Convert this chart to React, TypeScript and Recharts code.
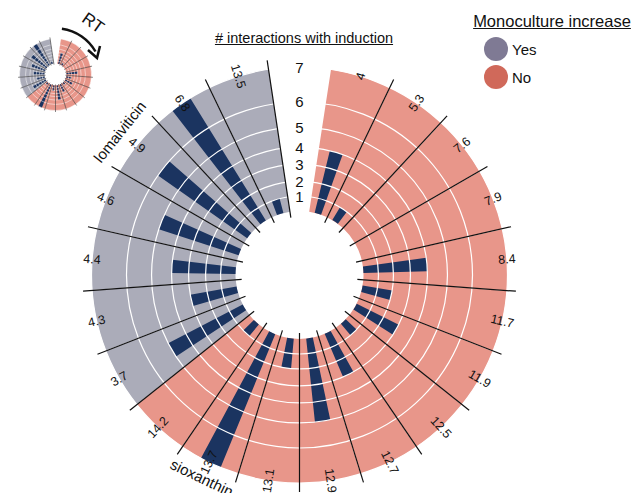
import React from "react";
import {
  RadialBarChart,
  RadialBar,
  PolarAngleAxis,
  PolarRadiusAxis,
  PolarGrid,
  Cell,
} from "recharts";

// one slot per retention-time group, slot 0 is the empty gap at the top
const rtLabels = ["", "4", "5.3", "7.6", "7.9", "8.4", "11.7", "11.9", "12.5", "12.7", "12.9", "13.1", "13.7", "14.2", "3.7", "4.3", "4.4", "4.6", "4.9", "6.8", "13.5"];
const interactions = [null, 4, 1, 0, 0, 4, 2, 3, 1, 3, 5, 2, 7, 1, 5, 3, 4, 5, 6, 7, 1];
const monocultureIncrease = ["", "No", "No", "No", "No", "No", "No", "No", "No", "No", "No", "No", "No", "No", "Yes", "Yes", "Yes", "Yes", "Yes", "Yes", "Yes"];
const compoundNames = ["", "", "", "", "", "", "", "", "", "", "", "", "sioxanthin", "", "", "", "", "", "lomaiviticin", "", ""];
const ringTicks = [1, 2, 3, 4, 5, 6, 7];
const ringMax = 7;
const legendItems = ["Yes", "No"];

const groundColors: Record<string, string> = { Yes: "#abacb9", No: "#e8968a" };
const legendColors: Record<string, string> = { Yes: "#7f7a94", No: "#d0695a" };
const barColor = "#1b3460";

const rows = rtLabels.map((rt, i) => ({
  rt,
  count: interactions[i],
  span: monocultureIncrease[i] ? ringMax : null,
  increase: monocultureIncrease[i],
  compound: compoundNames[i],
}));

const N = rtLabels.length;
// slot edges 0..N, used by the numeric angle axes (labels, separator lines)
const edgeRows = Array.from({ length: N + 1 }, (_, k) => ({ edge: k }));
const slotCenters = rows.map((_, i) => i + 0.5);
const slotEnds = rows.slice(1).map((_, i) => i + 2);

const STEP = 360 / N;
const START = 90 + STEP / 2;
// recharts pushes category bars one band counter-clockwise on a clockwise circle
const BAR_START = START - STEP;

// rings get wider towards the rim
const ringStops = [0, 0.104, 0.208, 0.326, 0.444, 0.583, 0.757, 1];

function ringScale(): any {
  let dom = [0, ringMax];
  let rng = [0, 1];
  const frac = (v: number) => {
    const k = Math.max(0, Math.min(ringStops.length - 2, Math.floor(v)));
    return ringStops[k] + (ringStops[k + 1] - ringStops[k]) * (v - k);
  };
  const scale: any = (v: number) => {
    const f0 = frac(Number(dom[0]));
    const f1 = frac(Number(dom[1]));
    return rng[0] + ((frac(Number(v)) - f0) / (f1 - f0)) * (rng[1] - rng[0]);
  };
  scale.domain = (d?: any[]) => {
    if (d === undefined) return dom.slice();
    dom = d.map(Number);
    return scale;
  };
  scale.range = (r?: any[]) => {
    if (r === undefined) return rng.slice();
    rng = r.map(Number);
    return scale;
  };
  scale.copy = () => ringScale().domain(dom).range(rng);
  scale.ticks = () => ringTicks.slice();
  return scale;
}

const W = 634;
const H = 493;
const NO_MARGIN = { top: 0, right: 0, bottom: 0, left: 0 };
const layer: React.CSSProperties = { position: "absolute", left: 0, top: 0, width: W, height: H };

type WheelProps = {
  cx: number;
  cy: number;
  hole: number;
  rim: number;
  lineIn: number;
  lineOut: number;
  thin: number;
  detail: boolean;
};

function Wheel({ cx, cy, hole, rim, lineIn, lineOut, thin, detail }: WheelProps) {
  const base = { width: W, height: H, cx, cy, margin: NO_MARGIN };
  const barBase = { ...base, data: rows, layout: "centric" as const, startAngle: BAR_START, endAngle: BAR_START - 360 };
  const edgeBase = { ...base, data: edgeRows, layout: "centric" as const, startAngle: START, endAngle: START - 360 };

  const rtTick = (props: any) => {
    const v = Number(props.payload.value);
    const row = rows[Math.floor(v)];
    if (!row) return <g />;
    const a = Number(props.payload.coordinate);
    const rad = (a * Math.PI) / 180;
    const compass = (((90 - a) % 360) + 360) % 360;
    const at = (r: number) => ({ x: cx + r * Math.cos(rad), y: cy - r * Math.sin(rad) });
    const lower = compass > 90 && compass < 270;
    const p = at(rim);
    const q = at(rim + (lower ? 17 : 22));
    const rtRot = compass < 180 ? -a : 180 - a;
    const nameRot = lower ? compass - 180 : compass;
    return (
      <g>
        {row.rt && (
          <text x={p.x} y={p.y} transform={`rotate(${rtRot} ${p.x} ${p.y})`} textAnchor="middle" dominantBaseline="central" fontSize={12.5} fill="#111">
            {row.rt}
          </text>
        )}
        {row.compound && (
          <text x={q.x} y={q.y} transform={`rotate(${nameRot} ${q.x} ${q.y})`} textAnchor="middle" dominantBaseline="central" fontSize={15} fill="#111">
            {row.compound}
          </text>
        )}
      </g>
    );
  };

  const ringTick = (props: any) => (
    <text x={props.x} y={props.y} textAnchor="middle" dominantBaseline="central" fontSize={15} fill="#111">
      {props.payload.value}
    </text>
  );

  return (
    <>
      <div style={layer}>
        <RadialBarChart {...barBase} innerRadius={hole} outerRadius={rim} barCategoryGap={0}>
          <PolarAngleAxis type="category" dataKey="rt" tick={false} axisLine={false} tickLine={false} />
          <PolarRadiusAxis type="number" domain={[0, ringMax]} allowDataOverflow scale={ringScale()} ticks={ringTicks} tick={false} axisLine={false} />
          <RadialBar dataKey="span" isAnimationActive={false}>
            {rows.map((r, i) => (
              <Cell key={i} fill={groundColors[r.increase] ?? "none"} />
            ))}
          </RadialBar>
        </RadialBarChart>
      </div>
      <div style={layer}>
        <RadialBarChart {...barBase} innerRadius={hole} outerRadius={rim} barSize={6}>
          <PolarAngleAxis type="category" dataKey="rt" tick={false} axisLine={false} tickLine={false} />
          <PolarRadiusAxis type="number" domain={[0, ringMax]} allowDataOverflow scale={ringScale()} ticks={ringTicks} tick={false} axisLine={false} />
          <RadialBar dataKey="count" fill={barColor} isAnimationActive={false} />
        </RadialBarChart>
      </div>
      <div style={layer}>
        <RadialBarChart {...edgeBase} innerRadius={hole} outerRadius={rim}>
          <PolarAngleAxis type="number" dataKey="edge" ticks={slotCenters} tick={detail ? rtTick : false} axisLine={false} tickLine={false} />
          <PolarRadiusAxis type="number" angle={90} domain={[0, ringMax]} allowDataOverflow scale={ringScale()} ticks={ringTicks} tick={detail ? ringTick : false} axisLine={false} />
          <PolarGrid gridType="circle" radialLines={false} stroke="#ffffff" strokeWidth={thin} />
        </RadialBarChart>
      </div>
      <div style={layer}>
        <RadialBarChart {...edgeBase} innerRadius={lineIn} outerRadius={lineOut}>
          <PolarAngleAxis type="number" dataKey="edge" ticks={slotEnds} tick={false} axisLine={false} tickLine={false} />
          <PolarGrid gridType="circle" polarRadius={[]} radialLines stroke="#111111" strokeWidth={thin} />
        </RadialBarChart>
      </div>
    </>
  );
}

export default function App() {
  return (
    <div style={{ ...layer, fontFamily: '"Liberation Sans", Arial, Helvetica, sans-serif', color: "#111", background: "#fff" }}>
      <Wheel cx={299.5} cy={275} hole={64} rim={208} lineIn={58} lineOut={217} thin={1.2} detail />
      <Wheel cx={55.5} cy={74.5} hole={11} rim={36} lineIn={10} lineOut={37.5} thin={0.5} detail={false} />

      <svg style={layer} width={W} height={H}>
        <path d="M 61.9 28.7 A 46 46 0 0 1 95.5 51.5" fill="none" stroke="#111" strokeWidth={2.5} />
        <polyline points="88,50 97,58 100,46" fill="none" stroke="#111" strokeWidth={2.5} />
        <text x={93} y={23} transform="rotate(35 93 23)" textAnchor="middle" dominantBaseline="central" fontSize={17} fill="#111">
          RT
        </text>
      </svg>

      <div style={{ position: "absolute", left: 154, top: 30, width: 300, textAlign: "center", fontSize: 14.5, textDecoration: "underline", whiteSpace: "nowrap" }}>
        # interactions with induction
      </div>

      <div style={{ position: "absolute", left: 462, top: 12, width: 180, textAlign: "center", fontSize: 16.5, textDecoration: "underline", whiteSpace: "nowrap" }}>
        Monoculture increase
      </div>
      {legendItems.map((name, i) => (
        <div key={name} style={{ position: "absolute", left: 484, top: 37 + i * 28, height: 24, display: "flex", alignItems: "center" }}>
          <span style={{ width: 24, height: 24, borderRadius: 12, background: legendColors[name], display: "inline-block" }} />
          <span style={{ marginLeft: 4, fontSize: 15 }}>{name}</span>
        </div>
      ))}
    </div>
  );
}
